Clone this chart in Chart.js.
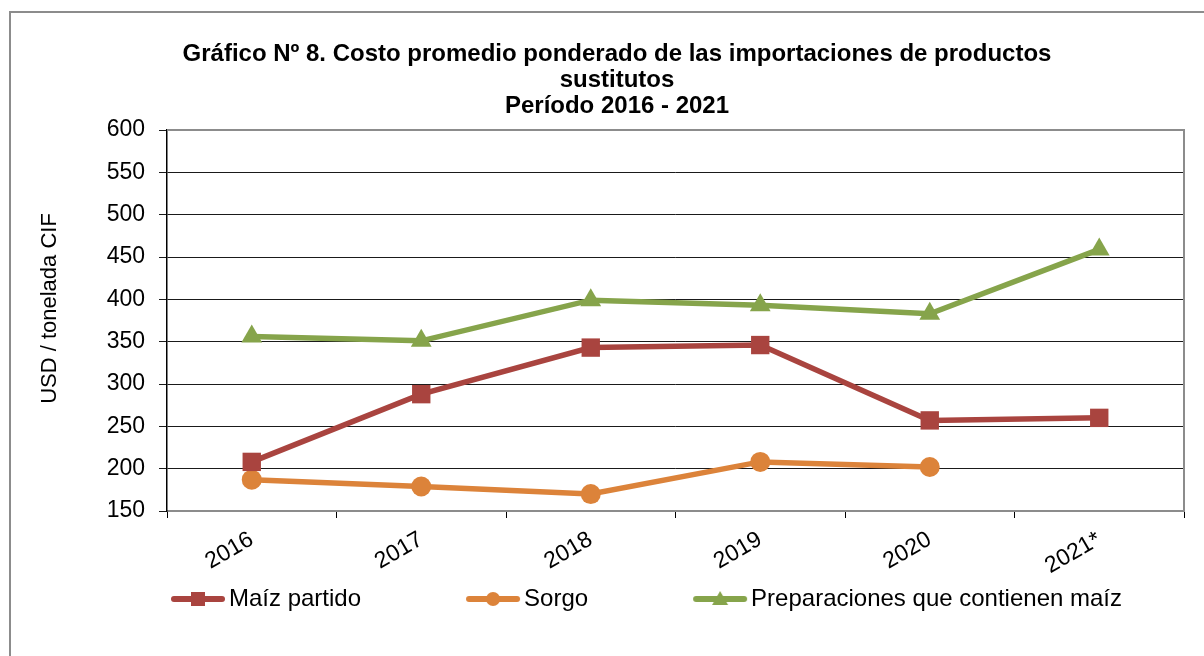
<!DOCTYPE html>
<html>
<head>
<meta charset="utf-8">
<script src="https://cdn.jsdelivr.net/npm/chart.js@4.4.1/dist/chart.umd.min.js"></script>
<style>
  html, body { margin: 0; padding: 0; background: #fff; overflow: hidden; width: 1204px; height: 656px; }
  #frame { position: absolute; left: 9px; top: 11px; width: 1300px; height: 700px; border: 2px solid #8c8c8c; }
  #wrap { position: absolute; left: 12px; top: 12px; }
</style>
</head>
<body>
<div id="frame"></div>
<div id="wrap"><canvas id="chart" width="1210" height="609"></canvas></div>
<script>
// --- data ---
const years = ['2016', '2017', '2018', '2019', '2020', '2021*'];
const maizPartido = [208, 288, 343, 346, 257, 260];
const sorgo = [187, 179, 170, 208, 202, null];
const preparaciones = [356, 351, 399, 393, 383, 459];
const yTicks = [150, 200, 250, 300, 350, 400, 450, 500, 550, 600];

const seriesNames = ['Maíz partido', 'Sorgo', 'Preparaciones que contienen maíz'];
const seriesColors = ['#a9443f', '#dc833a', '#86a44b'];
const seriesMarkers = ['rect', 'circle', 'triangle'];
const yTitle = 'USD / tonelada CIF';

const FONT = "'Liberation Sans', Arial, sans-serif";
const LEGEND_BOX = 141;   // pointStyleWidth
const LEGEND_SHIFT = -18; // nudge legend row to the left

// legend icon: line with marker, drawn at the right end of a wide transparent canvas
function legendIcon(color, marker) {
    const W = LEGEND_BOX + 20, H = 22;
    const c = document.createElement('canvas');
    c.width = W; c.height = H;
    const g = c.getContext('2d');
    g.strokeStyle = color;
    g.fillStyle = color;
    g.lineWidth = 6;
    g.lineCap = 'round';
    g.beginPath();
    g.moveTo(W - 53, H / 2);
    g.lineTo(W - 5, H / 2);
    g.stroke();
    const cx = W - 29, cy = H / 2;
    g.beginPath();
    if (marker === 'rect') {
        g.rect(cx - 7, cy - 7, 14, 14);
    } else if (marker === 'circle') {
        g.arc(cx, cy, 7, 0, Math.PI * 2);
    } else {
        g.moveTo(cx, cy - 8);
        g.lineTo(cx + 8, cy + 6);
        g.lineTo(cx - 8, cy + 6);
        g.closePath();
    }
    g.fill();
    return c;
}
const legendIcons = seriesColors.map((c, i) => legendIcon(c, seriesMarkers[i]));

// gray right + top border of the plot area, y title, legend nudge
const plotFrame = {
    id: 'plotFrame',
    afterLayout(chart) {
        chart.legend.left += LEGEND_SHIFT;
        chart.legend.right += LEGEND_SHIFT;
    },
    afterDatasetsDraw(chart) {
        const a = chart.chartArea;
        const ctx = chart.ctx;
        ctx.save();
        ctx.strokeStyle = '#8c8c8c';
        ctx.lineWidth = 2;
        ctx.beginPath();
        ctx.moveTo(a.left, a.top);
        ctx.lineTo(a.right, a.top);
        ctx.lineTo(a.right, a.bottom);
        ctx.stroke();
        ctx.restore();
    },
    afterDraw(chart) {
        const a = chart.chartArea;
        const ctx = chart.ctx;
        ctx.save();
        ctx.translate(38, (a.top + a.bottom) / 2 - 12);
        ctx.rotate(-Math.PI / 2);
        ctx.font = '22px ' + FONT;
        ctx.fillStyle = '#000';
        ctx.textAlign = 'center';
        ctx.textBaseline = 'middle';
        ctx.fillText(yTitle, 0, 0);
        ctx.restore();
    }
};

const datasets = [maizPartido, sorgo, preparaciones].map((vals, i) => ({
    label: seriesNames[i],
    data: vals,
    borderColor: seriesColors[i],
    backgroundColor: seriesColors[i],
    pointBackgroundColor: seriesColors[i],
    pointBorderColor: seriesColors[i],
    borderWidth: 5.5,
    pointStyle: seriesMarkers[i],
    pointRadius: [13, 10, 12][i],
    pointBorderWidth: 0,
    tension: 0,
    spanGaps: false
}));

const ctx = document.getElementById('chart').getContext('2d');
new Chart(ctx, {
    type: 'line',
    data: { labels: years, datasets: datasets },
    options: {
        responsive: false,
        animation: false,
        events: [],
        layout: { padding: { left: 38, right: 38, top: 0, bottom: 0 } },
        plugins: {
            title: {
                display: true,
                text: ['Gráfico Nº 8. Costo promedio ponderado de las importaciones de productos',
                       'sustitutos', 'Período 2016 - 2021'],
                color: '#000',
                font: { family: FONT, size: 24, weight: 'bold', lineHeight: 26 / 24 },
                padding: { top: 29, bottom: 11 }
            },
            legend: {
                position: 'bottom',
                labels: {
                    usePointStyle: true,
                    pointStyleWidth: LEGEND_BOX,
                    padding: 10,
                    color: '#000',
                    font: { family: FONT, size: 24 },
                    generateLabels: chart => chart.data.datasets.map((ds, i) => ({
                        text: ds.label,
                        pointStyle: legendIcons[i],
                        fillStyle: ds.borderColor,
                        strokeStyle: ds.borderColor,
                        lineWidth: 0,
                        hidden: false,
                        datasetIndex: i,
                        fontColor: '#000'
                    }))
                }
            },
            tooltip: { enabled: false }
        },
        scales: {
            x: {
                offset: true,
                grid: {
                    offset: true,
                    drawOnChartArea: false,
                    drawTicks: true,
                    tickLength: 7,
                    color: '#000'
                },
                border: { color: '#8c8c8c', width: 2 },
                ticks: {
                    color: '#000',
                    font: { family: FONT, size: 23 },
                    minRotation: 30,
                    maxRotation: 30,
                    padding: 8
                },
                afterFit: s => { s.height = 66; }
            },
            y: {
                min: 150,
                max: 600,
                afterBuildTicks: s => { s.ticks = yTicks.map(v => ({ value: v })); },
                grid: { color: '#1a1a1a', lineWidth: 1, tickLength: 8 },
                border: { color: '#000', width: 1.5 },
                ticks: {
                    color: '#000',
                    font: { family: FONT, size: 23 },
                    padding: 14
                },
                afterFit: s => { s.width = 117; }
            }
        }
    },
    plugins: [plotFrame]
});
</script>
</body>
</html>
